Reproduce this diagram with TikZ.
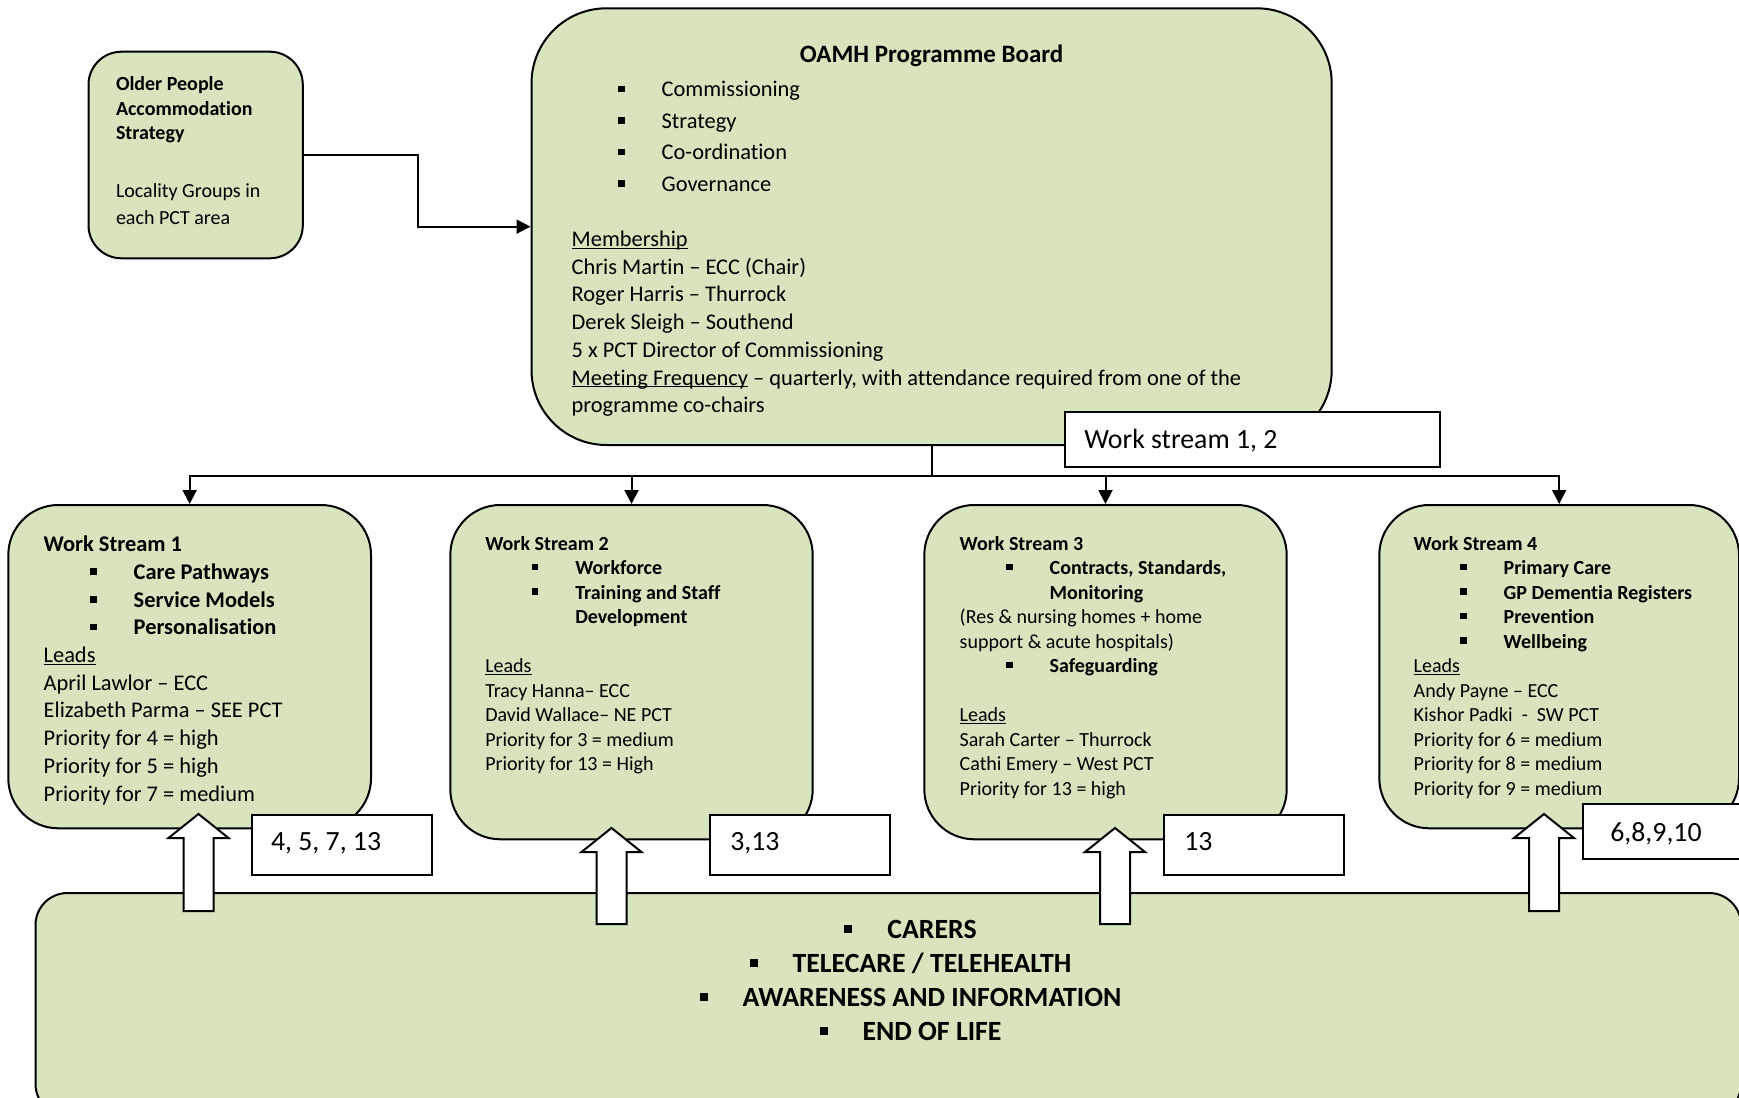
\documentclass[tikz,border=0pt]{standalone}
\usepackage{fontspec}
\setmainfont{Carlito}[Ligatures={TeX,CommonOff}]
\usepackage{xcolor}
\usepackage{tikz}
\usetikzlibrary{arrows.meta}
\definecolor{boxgreen}{HTML}{D7E4BD}
\tikzset{
  font={\fontsize{22.4pt}{27.7pt}\selectfont}}

\newcommand{\sqitem}[1]{\mbox{\hspace*{46.5pt}\rule[4.5pt]{6.5pt}{6.5pt}\hspace*{37pt}#1}}
\newcommand{\sqcont}[1]{\mbox{\hspace*{90pt}#1}}
\newcommand{\uln}[1]{\leavevmode\setbox0=\hbox{#1}\rlap{\copy0}\rule[-2.5pt]{\wd0}{1.3pt}}
\newcommand{\bigsq}{\leavevmode\llap{\rule[5pt]{8pt}{8pt}\hspace*{35pt}}}

\begin{document}
\begin{tikzpicture}[x=1pt, y=-1pt]

    \tikzset{edge/.style = {-{Triangle[length=14pt,width=14pt]}, line width=2pt}}
    \tikzset{greenbox/.style = {draw=black, fill=boxgreen, line width=2pt, anchor=base west, align=flush left, inner ysep=0pt}}
    \tikzset{numbox/.style = {draw=black, fill=white, line width=2pt, anchor=base west, align=flush left, inner ysep=0pt, font={\fontsize{27.8pt}{30pt}\selectfont}}}
    \tikzset{uparrow/.style = {draw=black, fill=white, line width=2pt}}

    \useasboundingbox (0,0) rectangle (1739,1097);
    \clip (0,0) rectangle (1739,1097);

    % vertices
    \node[greenbox, rounded corners=33pt, inner xsep=27.5pt, text width=159.3pt, text height=39pt, text depth=167.6pt, font={\fontsize{20pt}{24.6pt}\selectfont}] (older)
        at (87.5,90.7) {\textbf{Older People}\\ \textbf{Accommodation}\\ \textbf{Strategy}\\[33.1pt] Locality Groups in\\[2.7pt] each PCT area};
    \node[greenbox, rounded corners=75pt, inner xsep=40.2pt, text width=719.8pt, text height=54.4pt, text depth=382.3pt] (oamh)
        at (530.5,62.7) {\makebox[719.8pt][c]{\fontsize{25pt}{27.7pt}\selectfont\bfseries OAMH Programme Board}\\[6.3pt]
        \sqitem{Commissioning}\\[3.9pt]
        \sqitem{Strategy}\\[3.9pt]
        \sqitem{Co-ordination}\\[3.9pt]
        \sqitem{Governance}\\[27.3pt]
        \uln{Membership}\\
        Chris Martin -- ECC (Chair)\\
        Roger Harris -- Thurrock\\
        Derek Sleigh -- Southend\\
        5 x PCT Director of Commissioning\\
        \uln{Meeting Frequency} -- quarterly, with attendance required from one of the\\
        programme co-chairs};
    \node[numbox, inner xsep=19.3pt, text width=336.4pt, text height=36pt, text depth=18.7pt] (wsonetwo)
        at (1064,448.3) {Work stream 1, 2};

    \node[greenbox, rounded corners=50pt, inner xsep=35.4pt, text width=291.9pt, text height=46.7pt, text depth=276.6pt] (ws1)
        at (7.3,551.7) {\textbf{Work Stream 1}\\
        \sqitem{\textbf{Care Pathways}}\\
        \sqitem{\textbf{Service Models}}\\
        \sqitem{\textbf{Personalisation}}\\
        \uln{Leads}\\
        April Lawlor -- ECC\\
        Elizabeth Parma -- SEE PCT\\
        Priority for 4 = high\\
        Priority for 5 = high\\
        Priority for 7 = medium};
    \node[greenbox, rounded corners=50pt, inner xsep=35pt, text width=292.4pt, text height=45pt, text depth=289.3pt, font={\fontsize{20pt}{24.5pt}\selectfont}] (ws2)
        at (449.3,550) {\textbf{Work Stream 2}\\
        \sqitem{\textbf{Workforce}}\\
        \sqitem{\textbf{Training and Staff}}\\
        \sqcont{\textbf{Development}}\\[24.5pt]
        \uln{Leads}\\
        Tracy Hanna-- ECC\\
        David Wallace-- NE PCT\\
        Priority for 3 = medium\\
        Priority for 13 = High};
    \node[greenbox, rounded corners=50pt, inner xsep=35.4pt, text width=291.6pt, text height=45pt, text depth=289.3pt, font={\fontsize{20pt}{24.5pt}\selectfont}] (ws3)
        at (923.3,550) {\textbf{Work Stream 3}\\
        \sqitem{\textbf{Contracts, Standards,}}\\
        \sqcont{\textbf{Monitoring}}\\
        (Res \& nursing homes + home\\
        support \& acute hospitals)\\
        \sqitem{\textbf{Safeguarding}}\\[24.5pt]
        \uln{Leads}\\
        Sarah Carter -- Thurrock\\
        Cathi Emery -- West PCT\\
        Priority for 13 = high};
    \node[greenbox, rounded corners=50pt, inner xsep=34.4pt, text width=290.9pt, text height=45pt, text depth=278.3pt, font={\fontsize{20pt}{24.5pt}\selectfont}] (ws4)
        at (1378.3,550) {\textbf{Work Stream 4}\\
        \sqitem{\textbf{Primary Care}}\\
        \sqitem{\textbf{GP Dementia Registers}}\\
        \sqitem{\textbf{Prevention}}\\
        \sqitem{\textbf{Wellbeing}}\\
        \uln{Leads}\\
        Andy Payne -- ECC\\
        Kishor Padki\ \ -\ \ SW PCT\\
        Priority for 6 = medium\\
        Priority for 8 = medium\\
        Priority for 9 = medium};

    \node[draw=black, fill=boxgreen, line width=2pt, rounded corners=32pt, anchor=north west, minimum width=1705.5pt, minimum height=223pt, inner sep=0pt] (allws)
        at (34.5,892) {};
    \node[anchor=base, text width=700pt, align=flush center, inner sep=0pt, font={\bfseries\fontsize{27.8pt}{33.9pt}\selectfont}] (themes)
        at (932,938.3) {\bigsq CARERS\\ \bigsq TELECARE / TELEHEALTH\\ \bigsq AWARENESS AND INFORMATION\\ \bigsq END OF LIFE};

    \node[numbox, inner xsep=19pt, text width=142pt, text height=35.7pt, text depth=24.3pt] (pri1) at (251,850.7) {4, 5, 7, 13};
    \node[numbox, inner xsep=20.3pt, text width=139.4pt, text height=35.7pt, text depth=24.3pt] (pri2) at (709,850.7) {3,13};
    \node[numbox, inner xsep=20.3pt, text width=139.4pt, text height=35.7pt, text depth=24.3pt] (pri3) at (1163,850.7) {13};
    \node[numbox, inner xsep=27.3pt, text width=125.4pt, text height=36.7pt, text depth=18.3pt] (pri4) at (1582,841) {6,8,9,10};

    %edges
    \draw[edge] (older.east) -- ++(114,0) |- (oamh.west);
    \coordinate (split) at ([yshift=-30pt]oamh.south);
    \draw[line width=2pt] (oamh.south) -- (split);
    \foreach \w in {ws1,ws2,ws3,ws4}
        \draw[edge] (split) -| (\w.north);

    % block arrows up from the shared themes
    \foreach \x/\t/\b in {198.5/814/911, 611.5/828/924, 1115/828/924, 1544/814/911}
        \draw[uparrow] (\x,\t) -- ({\x+30},{\t+24}) -- ({\x+15},{\t+24}) -- ({\x+15},\b)
            -- ({\x-15},\b) -- ({\x-15},{\t+24}) -- ({\x-30},{\t+24}) -- cycle;

\end{tikzpicture}
\end{document}
